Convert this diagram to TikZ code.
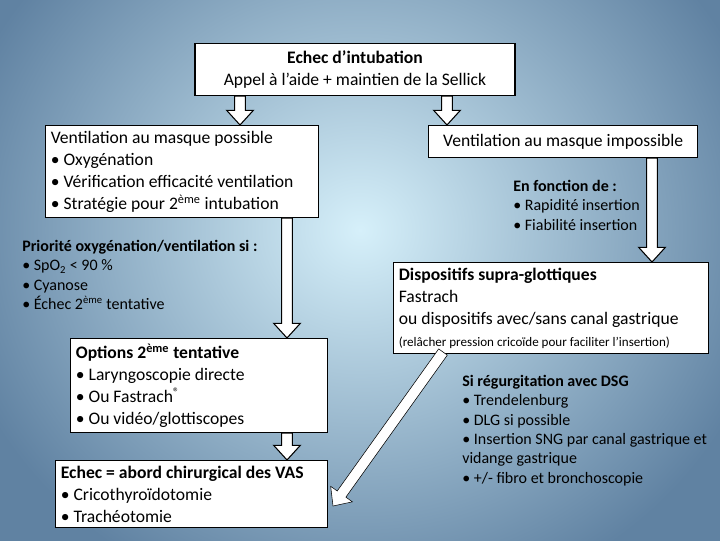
\documentclass[tikz,border=0pt]{standalone}
\usepackage{fontspec}
\setmainfont{Carlito}
\usetikzlibrary{calc,positioning}
\definecolor{bgcenter}{RGB}{214,240,250}
\definecolor{bgouter}{RGB}{96,130,162}
\tikzset{
    box/.style={draw, fill=white, line width=0.8pt, align=flush left, inner sep=4pt, anchor=north west, font=\fontsize{13.2}{16.5}\selectfont},
    note/.style={align=flush left, inner sep=0pt, anchor=north west, font=\fontsize{12}{14.5}\selectfont},
    arrowline/.style={draw=black, fill=white, line width=0.8pt, line join=miter}
}
% hollow block arrow between two points
\newcommand\harrow[3][arrowline]{%
    \path let \p1=($#3-#2$), \n1={atan2(\y1,\x1)}, \n2={veclen(\x1,\y1)} in
        \pgfextra{\xdef\hang{\n1}\xdef\hlen{\n2}};
    \begin{scope}[shift={#2}, rotate=\hang]
        \path[#1] (0pt,-4pt) -- ({(\hlen-11)*1pt},-4pt) -- ({(\hlen-11)*1pt},-10pt) -- ({\hlen*1pt},0pt)
            -- ({(\hlen-11)*1pt},10pt) -- ({(\hlen-11)*1pt},4pt) -- (0pt,4pt) -- cycle;
    \end{scope}}
\begin{document}
\begin{tikzpicture}[x=0.75pt, y=-0.75pt]
    \useasboundingbox (0,0) rectangle (720,540);
    \begin{scope}
        \clip (0,0) rectangle (720,540);
        \shade[inner color=bgcenter, outer color=bgouter] (-60,-160) rectangle (780,620);
    \end{scope}

    \node[box, minimum width=240pt, minimum height=39pt, align=center, anchor=north] (echec) at (355,43)
        {\textbf{Echec d’intubation}\\Appel à l’aide + maintien de la Sellick};
    \node[box, text width=197pt] (possible) at (45,125)
        {Ventilation au masque possible\\• Oxygénation\\• Vérification efficacité ventilation\\• Stratégie pour 2\textsuperscript{ème} intubation};
    \node[box, minimum width=202pt, minimum height=24pt, align=center] (impossible) at (428,125)
        {Ventilation au masque impossible};
    \node[note] (fonction) at (513,180)
        {\textbf{En fonction de :}\\• Rapidité insertion\\• Fiabilité insertion};
    \node[note] (priorite) at (22,240)
        {\textbf{Priorité oxygénation/ventilation si :}\\• SpO\textsubscript{2} < 90 \%\\• Cyanose\\• Échec 2\textsuperscript{ème} tentative};
    \node[box, text width=228pt] (supra) at (393,262)
        {\textbf{Dispositifs supra-glottiques}\\Fastrach\\ou dispositifs avec/sans canal gastrique\\{\fontsize{9.8}{12}\selectfont(relâcher pression cricoïde pour faciliter l’insertion)}};
    \node[box, text width=185pt] (options) at (70,338)
        {\textbf{Options 2\textsuperscript{ème} tentative}\\• Laryngoscopie directe\\• Ou Fastrach\textsuperscript{®}\\• Ou vidéo/glottiscopes};
    \node[box, text width=196pt] (chir) at (55,460)
        {\textbf{Echec = abord chirurgical des VAS}\\• Cricothyroïdotomie\\• Trachéotomie};
    \node[note] (regurg) at (462,375)
        {\textbf{Si régurgitation avec DSG}\\• Trendelenburg\\• DLG si possible\\• Insertion SNG par canal gastrique et\\vidange gastrique\\• +/- fibro et bronchoscopie};

    \harrow{(echec.south -| 240,0)}{(possible.north -| 240,0)}
    \harrow{(echec.south -| 447,0)}{(impossible.north -| 447,0)}
    \harrow{(possible.south -| 287,0)}{(options.north -| 287,0)}
    \harrow{(options.south -| 287,0)}{(chir.north -| 287,0)}
    \harrow{(impossible.south -| 652,0)}{(supra.north -| 652,0)}
    \harrow[arrowline, line width=0.4pt]{(443,352)}{(333,506)}
\end{tikzpicture}
\end{document}
